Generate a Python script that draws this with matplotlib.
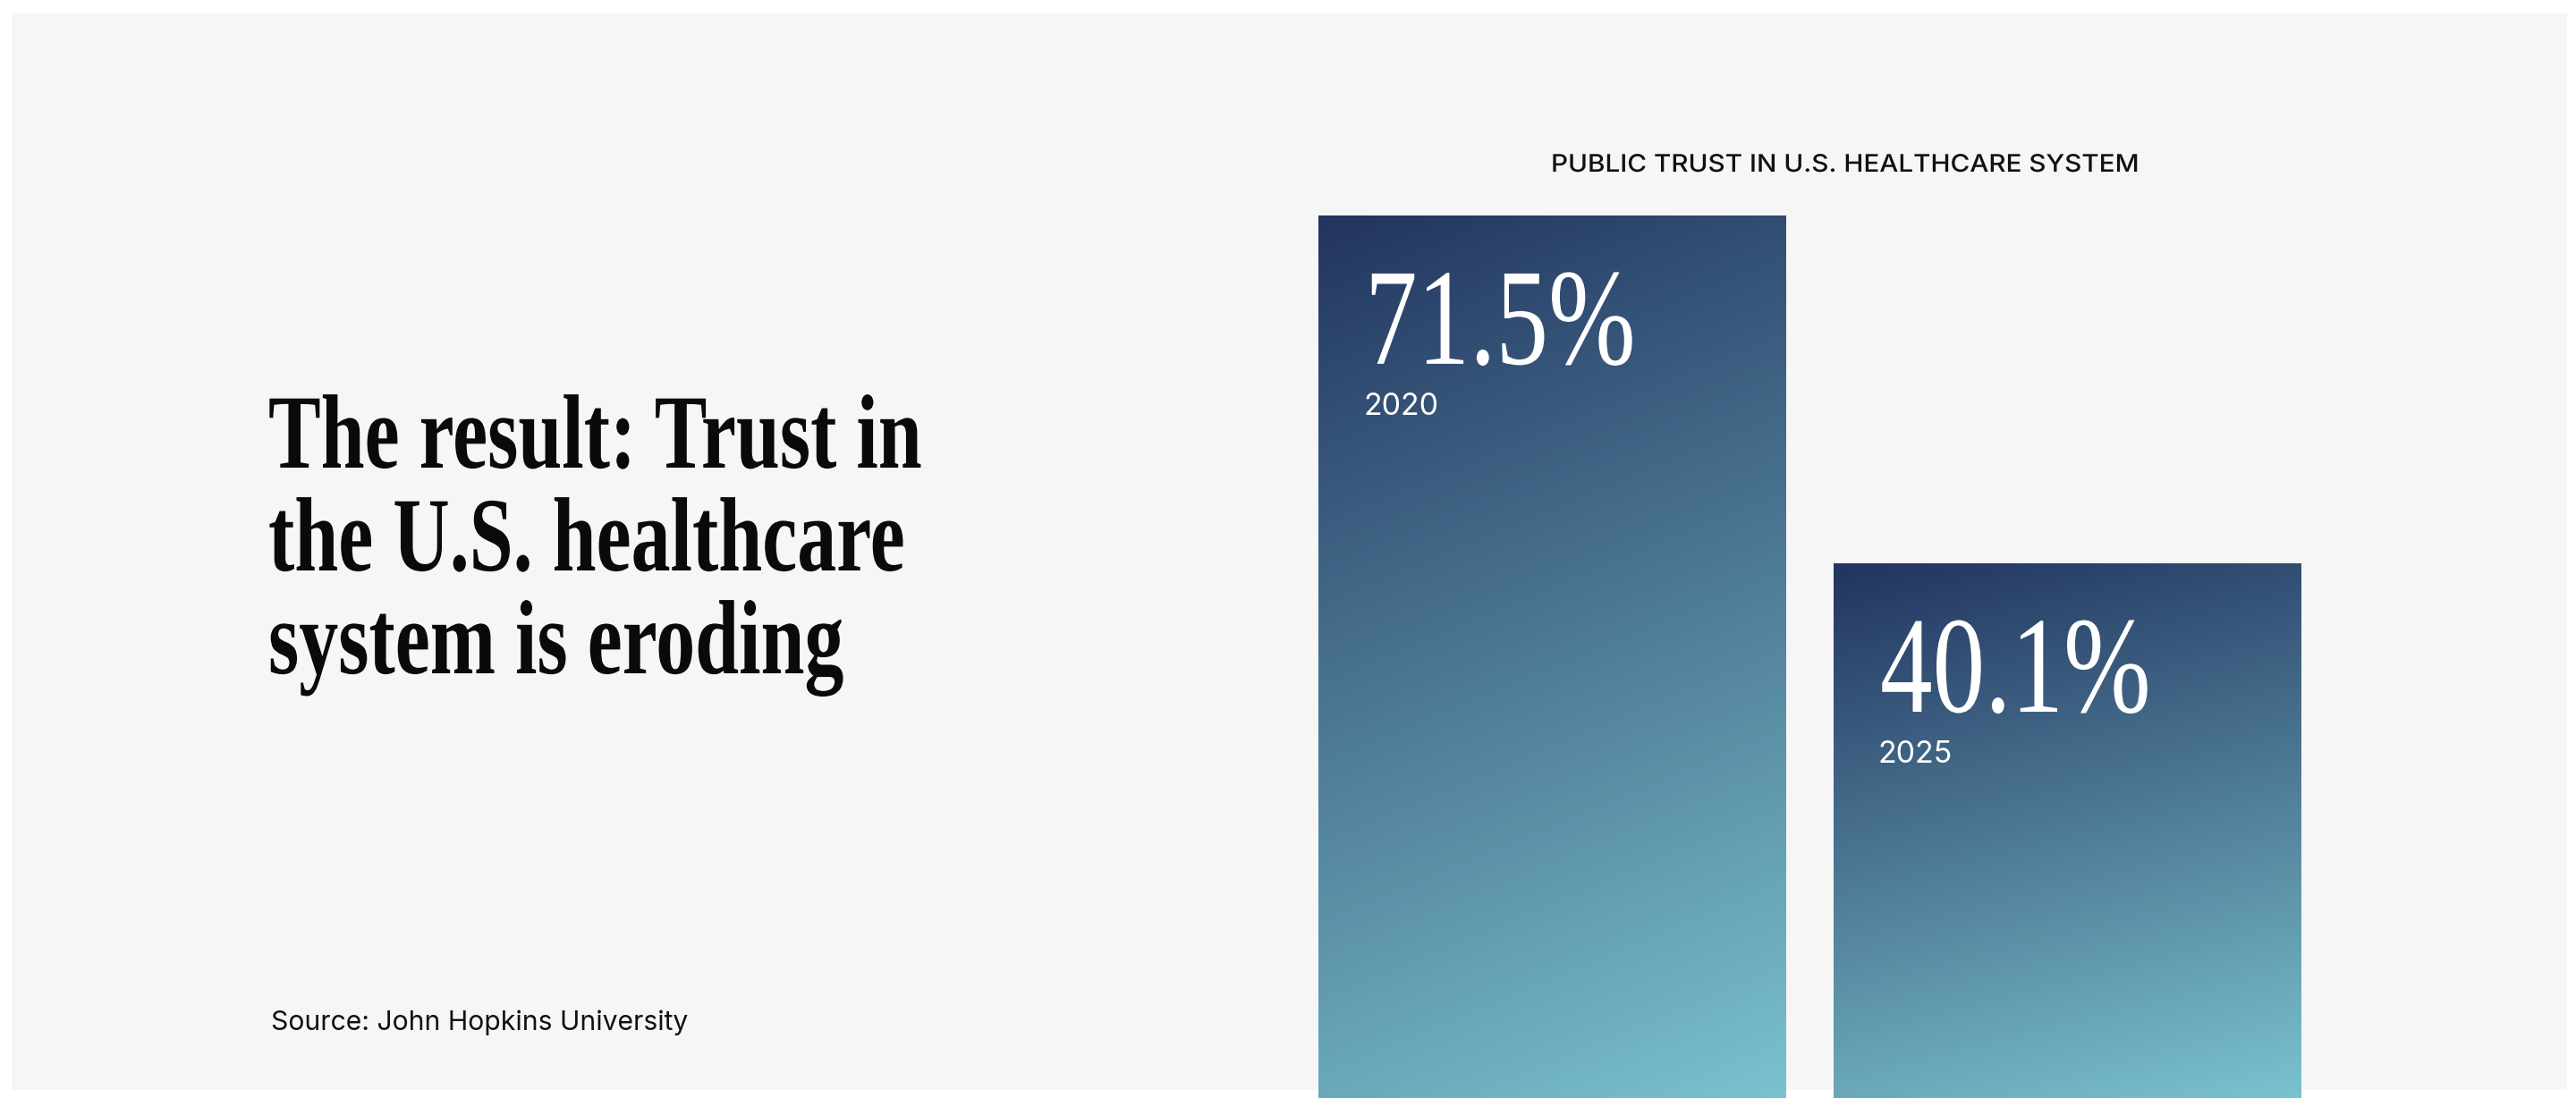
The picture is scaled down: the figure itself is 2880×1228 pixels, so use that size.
import numpy as np
import matplotlib
matplotlib.use("Agg")
import matplotlib.pyplot as plt
from matplotlib.patches import Rectangle
from matplotlib.colors import LinearSegmentedColormap
from matplotlib.patheffects import AbstractPathEffect
from matplotlib.transforms import Affine2D

# ---------------- data ----------------
years = ["2020", "2025"]
values = [71.5, 40.1]
value_labels = ["71.5%", "40.1%"]
chart_title = "PUBLIC TRUST IN U.S. HEALTHCARE SYSTEM"
headline_lines = ["The result: Trust in", "the U.S. healthcare", "system is eroding"]
source_text = "Source: John Hopkins University"

# ---------------- helpers ----------------
W, H = 2880, 1228
DPI = 100


class HScale(AbstractPathEffect):
    """Scale glyphs horizontally (the text stays a Text artist)."""
    def __init__(self, sx):
        super().__init__()
        self.sx = sx

    def draw_path(self, renderer, gc, tpath, affine, rgbFace=None):
        m = affine.get_matrix().copy()
        m[0, 0] *= self.sx
        m[0, 1] *= self.sx
        renderer.draw_path(gc, tpath, Affine2D(m), rgbFace)


def fx(px):
    return px / W


def fy(py):
    return 1 - py / H


fig = plt.figure(figsize=(W / DPI, H / DPI), dpi=DPI, facecolor="white")

# light panel (behind everything)
fig.patches.append(Rectangle((fx(13), fy(1219)), fx(2870) - fx(13), fy(15) - fy(1219),
                             transform=fig.transFigure, facecolor="#f6f6f6",
                             edgecolor="none", zorder=-10))

# ---------------- headline ----------------
serif = "Liberation Serif"
for line, base in zip(headline_lines, [523, 638, 753]):
    fig.text(fx(300), fy(base), line, fontsize=85, family=serif, fontweight="bold",
             color="#0a0a0a", ha="left", va="baseline",
             path_effects=[HScale(0.745)], zorder=3)

fig.text(fx(303), fy(1152), source_text, fontsize=21.7, family="Inter",
         color="#111111", ha="left", va="baseline", zorder=3)

fig.text(fx(1734), fy(192), chart_title, fontsize=19.5, family="Inter",
         fontweight="medium", color="#111111", ha="left", va="baseline",
         path_effects=[HScale(1.095)], zorder=3)

# ---------------- bar chart ----------------
ax_l, ax_r, ax_top = 1400, 2650, 141
ax = fig.add_axes([fx(ax_l), 0, fx(ax_r) - fx(ax_l), fy(ax_top)], zorder=1)
ax.set_facecolor("none")
for s in ax.spines.values():
    s.set_visible(False)
ax.set_xticks([])
ax.set_yticks([])

bar_w = 0.908
x = np.arange(len(values))
y_lo, y_hi = -8.15, 79.56

bars = ax.bar(x, np.array(values) - y_lo, bottom=y_lo, width=bar_w,
              facecolor="none", edgecolor="none", zorder=2)

cmap = LinearSegmentedColormap.from_list("trust", ["#22345f", "#7ac2ce"])
for rect in bars:
    x0, y0 = rect.get_x(), rect.get_y()
    x1, y1 = x0 + rect.get_width(), y0 + rect.get_height()
    u = np.linspace(0, 1, 200)[None, :]
    v = np.linspace(0, 1, 400)[:, None]
    t = np.clip(0.82 * v + 0.18 * u, 0, 1)
    im = ax.imshow(t, cmap=cmap, vmin=0, vmax=1, extent=(x0, x1, y0, y1),
                   origin="upper", aspect="auto", interpolation="bilinear", zorder=2)
    im.set_clip_path(rect)

ax.set_xlim(-0.5825, 1.5877)
ax.set_ylim(y_lo, y_hi)

pt = 72 / DPI
for i, (val, lab, yr) in enumerate(zip(values, value_labels, years)):
    left = x[i] - bar_w / 2
    ax.annotate(lab, xy=(left, val), xytext=(52 * pt, -166 * pt),
                textcoords="offset points", ha="left", va="baseline",
                fontsize=111, family=serif, color="white",
                path_effects=[HScale(0.76)], zorder=4, annotation_clip=False)
    ax.annotate(yr, xy=(left, val), xytext=(50 * pt, -223 * pt),
                textcoords="offset points", ha="left", va="baseline",
                fontsize=24.5, family="Inter", color="white", zorder=4,
                annotation_clip=False)

fig.savefig("out.png", dpi=DPI, facecolor="white")
